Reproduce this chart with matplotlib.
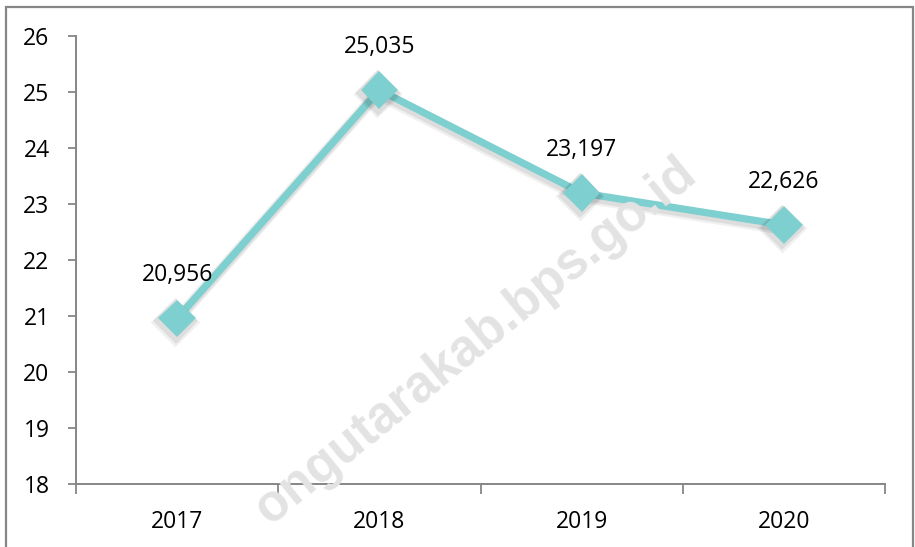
import numpy as np
import matplotlib
matplotlib.use("Agg")
import matplotlib.pyplot as plt
import matplotlib.patheffects as pe
from matplotlib.patches import Rectangle

years = ["2017", "2018", "2019", "2020"]
values = [20.956, 25.035, 23.197, 22.626]
value_labels = ["20,956", "25,035", "23,197", "22,626"]
y_ticks = [18, 19, 20, 21, 22, 23, 24, 25, 26]

line_color = "#7ECFCF"
axis_color = "#868686"

plt.rcParams['font.family'] = ['Open Sans', 'DejaVu Sans']

fig = plt.figure(figsize=(9.15, 5.47), dpi=100)
ax = fig.add_axes([76/915, 1-484/547, (885-76)/915, (484-36)/547])

# outer chart border
fig.patches.append(Rectangle((6/915, -0.05), (913-6)/915, 1.05-7/547,
                             transform=fig.transFigure, fill=False,
                             edgecolor=axis_color, linewidth=1.6))

# watermark (only the part that shows inside the frame)
fig.text(690/915, 1-168/547, "ongutarakab.bps.go.id", fontsize=37,
         fontweight="bold", color="#E3E3E3", rotation=39,
         rotation_mode="anchor", ha="right", va="center", zorder=0,
         family=["Liberation Sans", "DejaVu Sans"])

x = np.arange(len(years))
shadow = [pe.SimpleLineShadow(offset=(-1.5, -2.5), shadow_color="black", alpha=0.06, linewidth=9),
          pe.SimpleLineShadow(offset=(-1, -2), shadow_color="black", alpha=0.08, linewidth=7),
          pe.Normal()]
ax.plot(x, values, color=line_color, linewidth=5.2, marker="D", markersize=16,
        markeredgewidth=3, markeredgecolor=line_color,
        solid_joinstyle="round", clip_on=False, zorder=3, path_effects=shadow)

for i in range(len(years)):
    ax.annotate(value_labels[i], (x[i], values[i]), textcoords="offset points",
                xytext=(0, 31), ha="center", va="center", fontsize=16.5, color="black")

ax.set_xlim(-0.5, 3.5)
ax.set_ylim(18, 26)
ax.set_yticks(y_ticks)
ax.set_xticks(x)
ax.set_xticklabels(years)
ax.set_xticks(np.arange(-0.5, 4, 1), minor=True)
ax.tick_params(axis="x", which="major", length=0, pad=19, labelsize=16.5)
ax.tick_params(axis="x", which="minor", length=7, width=1.3, color=axis_color)
ax.tick_params(axis="y", length=6, width=1.3, color=axis_color, pad=13, labelsize=16.5)

for s in ["top", "right"]:
    ax.spines[s].set_visible(False)
for s in ["left", "bottom"]:
    ax.spines[s].set_color(axis_color)
    ax.spines[s].set_linewidth(1.4)
ax.patch.set_alpha(0)

fig.savefig("out.png", dpi=100)
